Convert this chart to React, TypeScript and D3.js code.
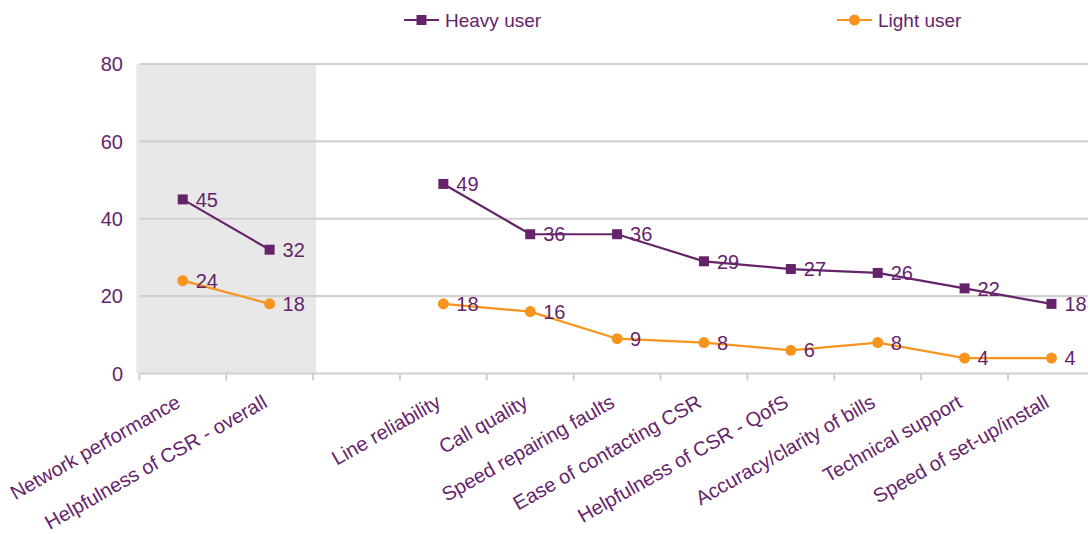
import React from "react";
import * as d3 from "d3";

const categories = [
  "Network performance",
  "Helpfulness of CSR - overall",
  "",
  "Line reliability",
  "Call quality",
  "Speed repairing faults",
  "Ease of contacting CSR",
  "Helpfulness of CSR - QofS",
  "Accuracy/clarity of bills",
  "Technical support",
  "Speed of set-up/install",
];
const heavyUser: (number | null)[] = [45, 32, null, 49, 36, 36, 29, 27, 26, 22, 18];
const lightUser: (number | null)[] = [24, 18, null, 18, 16, 9, 8, 6, 8, 4, 4];
const yTicks = [0, 20, 40, 60, 80];
const shadedCount = 2;

const PURPLE = "#65246a";
const ORANGE = "#f7941e";
const GRID = "#d0d0d0";
const FONT = "'Liberation Sans', Arial, sans-serif";
const FS = 20;

export default function App() {
  const W = 1088;
  const H = 534;
  const left = 139.3;
  const right = 1094.9;
  const top = 64;
  const bottom = 373.5;

  const x = d3
    .scaleBand<number>()
    .domain(categories.map((_, i) => i))
    .range([left, right])
    .padding(0);
  const cx = (i: number) => (x(i) as number) + x.bandwidth() / 2;
  const y = d3.scaleLinear().domain([0, 80]).range([bottom, top]);

  const segs = (vals: (number | null)[]) => {
    const out: { i: number; v: number }[][] = [];
    let cur: { i: number; v: number }[] = [];
    vals.forEach((v, i) => {
      if (v == null) {
        if (cur.length) out.push(cur);
        cur = [];
      } else cur.push({ i, v });
    });
    if (cur.length) out.push(cur);
    return out;
  };
  const segLine = d3
    .line<{ i: number; v: number }>()
    .x((d) => cx(d.i))
    .y((d) => y(d.v));

  const series = [
    { name: "Heavy user", values: heavyUser, color: PURPLE, marker: "square" },
    { name: "Light user", values: lightUser, color: ORANGE, marker: "circle" },
  ];
  const legendX = [404, 837];

  return (
    <svg
      width={W}
      height={H}
      style={{ position: "absolute", left: 0, top: 0, fontFamily: FONT }}
    >
      <rect x={0} y={0} width={W} height={H} fill="#fff" />
      <rect
        x={left - 3}
        y={top}
        width={(x(shadedCount) as number) - left + 6}
        height={bottom - top}
        fill="#e8e8e8"
      />
      {yTicks.map((t) => (
        <line
          key={t}
          x1={left}
          x2={W}
          y1={y(t)}
          y2={y(t)}
          stroke={GRID}
          strokeWidth={2.2}
        />
      ))}
      {categories.map((_, i) => (
        <line
          key={i}
          x1={x(i) as number}
          x2={x(i) as number}
          y1={bottom}
          y2={bottom + 7}
          stroke={GRID}
          strokeWidth={2}
        />
      ))}
      {yTicks.map((t) => (
        <text
          key={t}
          x={123}
          y={y(t)}
          dy="0.36em"
          textAnchor="end"
          fontSize={FS}
          fill={PURPLE}
        >
          {t}
        </text>
      ))}
      {categories.map((c, i) =>
        c ? (
          <text
            key={i}
            transform={`translate(${cx(i) - 8},${394}) rotate(-29.5)`}
            dy="0.7em"
            textAnchor="end"
            fontSize={FS}
            fill={PURPLE}
          >
            {c}
          </text>
        ) : null
      )}
      {series.map((s) => (
        <g key={s.name}>
          {segs(s.values).map((sg, k) => (
            <path
              key={k}
              d={segLine(sg) || ""}
              fill="none"
              stroke={s.color}
              strokeWidth={2.2}
            />
          ))}
          {s.values.map((v, i) =>
            v == null ? null : s.marker === "square" ? (
              <rect
                key={i}
                x={cx(i) - 5}
                y={y(v) - 5}
                width={10}
                height={10}
                fill={s.color}
              />
            ) : (
              <circle key={i} cx={cx(i)} cy={y(v)} r={5.5} fill={s.color} />
            )
          )}
          {s.values.map((v, i) =>
            v == null ? null : (
              <text
                key={"l" + i}
                x={cx(i) + 13}
                y={y(v)}
                dy="0.36em"
                fontSize={FS}
                fill={PURPLE}
              >
                {v}
              </text>
            )
          )}
        </g>
      ))}
      {series.map((s, k) => (
        <g key={s.name} transform={`translate(${legendX[k]},20)`}>
          <line x1={0} x2={35} y1={0} y2={0} stroke={s.color} strokeWidth={2.2} />
          {s.marker === "square" ? (
            <rect x={12.5} y={-5} width={10} height={10} fill={s.color} />
          ) : (
            <circle cx={17.5} cy={0} r={5.5} fill={s.color} />
          )}
          <text x={41} y={0} dy="0.36em" fontSize={19} fill={PURPLE}>
            {s.name}
          </text>
        </g>
      ))}
    </svg>
  );
}
